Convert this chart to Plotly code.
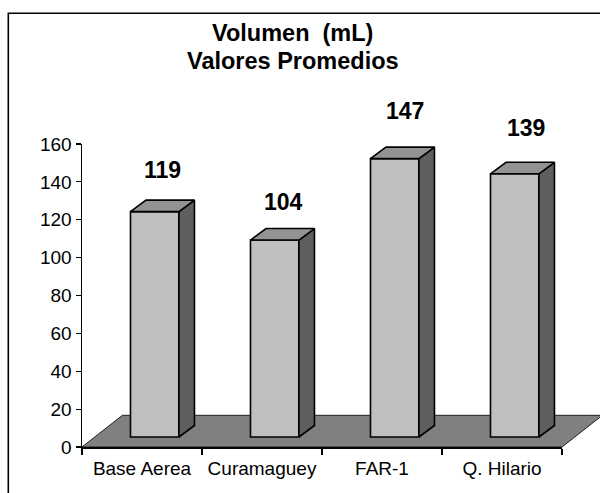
import plotly.graph_objects as go

# ---------------- data ----------------
categories = ["Base Aerea", "Curamaguey", "FAR-1", "Q. Hilario"]
values = [119, 104, 147, 139]
y_ticks = [0, 20, 40, 60, 80, 100, 120, 140, 160]
title_lines = ["Volumen  (mL)", "Valores Promedios"]

# ---------------- layout geometry ----------------
W, H = 600, 493
L, R, T, B = 82, 0, 144, 46
PW = W - L - R
PH = H - T - B
UNIT_PX = 120.0
X_MIN = -0.5
X_MAX = X_MIN + PW / UNIT_PX
Y_MIN, Y_MAX = 0, 160
PX_PER_Y = PH / (Y_MAX - Y_MIN)

FLOOR_DX = 40.4 / UNIT_PX
FLOOR_DY = 31.7 / PX_PER_Y
BAR_OFF = -0.096
BAR_W = 0.404
BAR_BASE = 10.0 / PX_PER_Y
BAR_DX = 15.5 / UNIT_PX
BAR_DY = 11.5 / PX_PER_Y
LABEL_DX = 0.17

FRONT = "#C0C0C0"
SIDE = "#5F5F5F"
TOP = "#939393"
FLOOR = "#808080"
FONT = "Arial, Liberation Sans, sans-serif"

n = len(categories)
idx = list(range(n))


def px_x(p):
    return (p - L) / PW


def px_y(p):
    return (H - B - p) / PH


fig = go.Figure()

# front faces as real bars
fig.add_trace(go.Bar(
    x=idx, y=values, base=BAR_BASE, width=BAR_W, offset=BAR_OFF,
    marker=dict(color=FRONT, line=dict(color="black", width=1.6)),
    hoverinfo="skip", showlegend=False,
))

# side + top faces computed from each value
for i, v in zip(idx, values):
    x0 = i + BAR_OFF
    x1 = x0 + BAR_W
    yb = BAR_BASE
    yt = BAR_BASE + v
    fig.add_trace(go.Scatter(
        x=[x1, x1 + BAR_DX, x1 + BAR_DX, x1, x1],
        y=[yb, yb + BAR_DY, yt + BAR_DY, yt, yb],
        mode="lines", fill="toself", fillcolor=SIDE,
        line=dict(color="black", width=1.6), hoverinfo="skip", showlegend=False,
    ))
    fig.add_trace(go.Scatter(
        x=[x0, x0 + BAR_DX, x1 + BAR_DX, x1, x0],
        y=[yt, yt + BAR_DY, yt + BAR_DY, yt, yt],
        mode="lines", fill="toself", fillcolor=TOP,
        line=dict(color="black", width=1.6), hoverinfo="skip", showlegend=False,
    ))

# dummy trace so the boundary-tick axis exists
fig.add_trace(go.Scatter(x=[None], y=[None], xaxis="x2", yaxis="y",
                         showlegend=False, hoverinfo="skip"))

# floor (below traces)
fx0, fx1 = -0.5, n - 0.5
floor_path = (f"M {fx0},0 L {fx1},0 L {fx1 + FLOOR_DX},{FLOOR_DY} "
              f"L {fx0 + FLOOR_DX},{FLOOR_DY} Z")
shapes = [dict(type="path", xref="x", yref="y", path=floor_path,
               fillcolor=FLOOR, line=dict(color="#202020", width=1), layer="below")]

# outer chart frame
shapes.append(dict(type="rect", xref="paper", yref="paper",
                   x0=px_x(8.3), x1=px_x(612), y0=px_y(13.3), y1=px_y(520),
                   line=dict(color="black", width=1.6), fillcolor="rgba(0,0,0,0)",
                   layer="above"))

annotations = []
# data labels (anchored at the bar value, lifted above the 3-D top)
for i, v in zip(idx, values):
    lift = (12.8 + 0.12 * v) * PX_PER_Y
    annotations.append(dict(
        x=i + LABEL_DX + 0.01 * i, y=v, xref="x", yref="y", yshift=lift,
        text=f"<b>{v}</b>", showarrow=False, xanchor="center", yanchor="middle",
        font=dict(family=FONT, size=23, color="black"),
    ))

# title lines
title_y_px = [33.5, 61.0]
for txt, ypx in zip(title_lines, title_y_px):
    annotations.append(dict(
        x=px_x(292.5), y=px_y(ypx), xref="paper", yref="paper",
        text=f"<b>{txt}</b>", showarrow=False, xanchor="center", yanchor="middle",
        font=dict(family=FONT, size=23.5, color="black"),
    ))

fig.update_layout(
    width=W, height=H,
    margin=dict(l=L, r=R, t=T, b=B, pad=0, autoexpand=False),
    paper_bgcolor="white", plot_bgcolor="rgba(0,0,0,0)",
    showlegend=False,
    xaxis=dict(
        range=[X_MIN, X_MAX], domain=[0, 1], anchor="y",
        tickmode="array", tickvals=idx, ticktext=categories,
        ticks="", showline=False, showgrid=False, zeroline=False,
        tickfont=dict(family=FONT, size=19, color="black"),
        ticklabelstandoff=8, automargin=False,
        fixedrange=True,
    ),
    xaxis2=dict(
        range=[-0.5, n - 0.5], domain=[0, n * UNIT_PX / PW], anchor="y",
        tickmode="array", tickvals=[k - 0.5 for k in range(n + 1)],
        showticklabels=False, ticks="outside", ticklen=6, tickwidth=1.2,
        tickcolor="black", showline=True, linecolor="black", linewidth=2,
        showgrid=False, zeroline=False, fixedrange=True, automargin=False,
    ),
    yaxis=dict(
        range=[Y_MIN, Y_MAX], anchor="x",
        tickmode="array", tickvals=y_ticks,
        ticks="outside", ticklen=5, tickwidth=1.2, tickcolor="black",
        showline=True, linecolor="black", linewidth=1.5,
        showgrid=False, zeroline=False,
        tickfont=dict(family=FONT, size=19, color="black"),
        ticklabelstandoff=0, automargin=False,
        fixedrange=True,
    ),
    shapes=shapes,
    annotations=annotations,
)

fig.write_html("out.html",
               config={"displayModeBar": False, "staticPlot": True},
               post_script="document.body.style.margin='0';document.body.style.overflow='hidden';")
